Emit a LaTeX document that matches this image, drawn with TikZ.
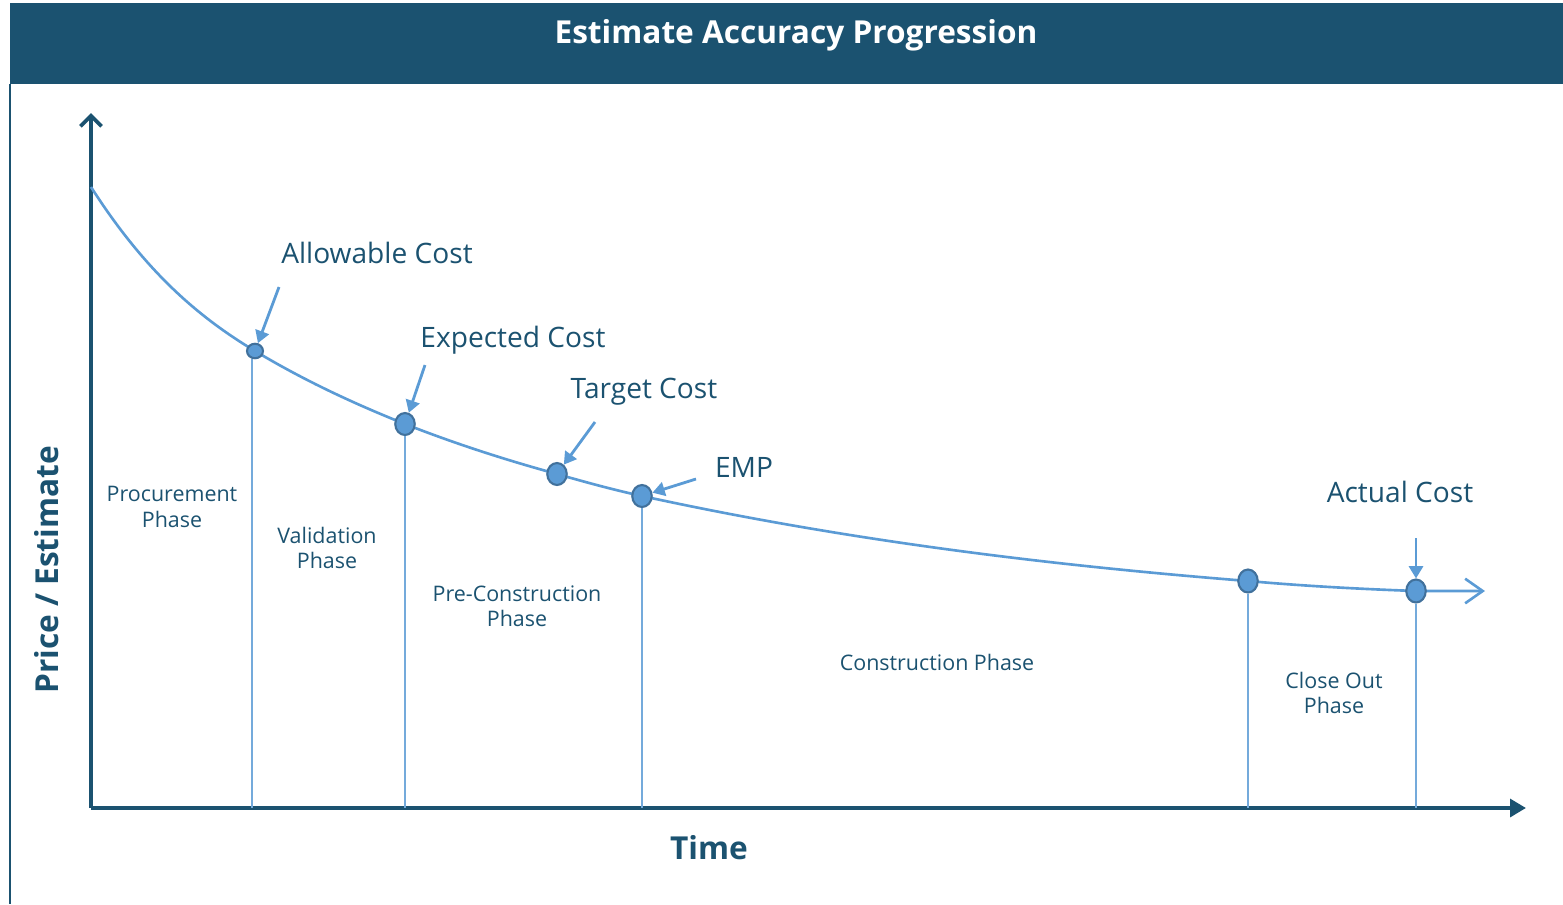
\documentclass[tikz,border=0pt]{standalone}
\usepackage{fontspec}
\setmainfont{Open Sans}
\usetikzlibrary{arrows.meta,shapes.geometric}

\definecolor{hdrblue}{HTML}{1B5270}
\definecolor{curveblue}{HTML}{5B9BD5}
\definecolor{rimblue}{HTML}{41719C}

\begin{document}
\begin{tikzpicture}[x=0.02cm,y=-0.02cm,
    axis/.style={draw=hdrblue, line width=2.2pt},
    curve/.style={draw=curveblue, line width=1.5pt},
    pointer/.style={draw=curveblue, line width=1.6pt, -{Triangle[length=7pt,width=8pt]}},
    drop/.style={draw=curveblue!85, line width=0.6pt},
    phase/.style={text=hdrblue, font=\fontsize{12.2}{14.5}\selectfont, align=center},
    costlabel/.style={text=hdrblue, font=\fontsize{16}{19}\selectfont}]

        \useasboundingbox (0,0) rectangle (1563,904);

        % header band
        \fill[hdrblue] (10,3) rectangle (1563,84);
        \draw[hdrblue, line width=1.2pt] (10,84) -- (10,904);
        \node[text=white, font=\fontsize{18}{21}\selectfont\bfseries] (title) at (796,35) {Estimate Accuracy Progression};

        % axes
        \coordinate (o) at (91,808);
        \coordinate (ytop) at (91,113);
        \coordinate (xend) at (1526,808);
        \draw[axis, -{Straight Barb[length=6pt,width=12pt]}] (o) -- (ytop);
        \draw[axis, -{Triangle[length=9pt,width=10pt]}] (o) -- (xend);
        \node[text=hdrblue, font=\fontsize{18}{21}\selectfont\bfseries, rotate=90] (ylab) at (47,570) {Price / Estimate};
        \node[text=hdrblue, font=\fontsize{18}{21}\selectfont\bfseries] (xlab) at (709,848) {Time};

        % the curve
        \draw[curve, -{Straight Barb[length=10pt,width=14pt]}] (91,187)
          .. controls (146,273) and (200,318) .. (255,351)
          .. controls (305,381) and (355,404) .. (405,424)
          .. controls (456,444) and (506,460) .. (557,474)
          .. controls (585,482) and (614,490) .. (642,496)
          .. controls (844,540) and (1046,565) .. (1248,581)
          .. controls (1304,586) and (1360,589) .. (1416,591)
          -- (1485,591);

        \begin{scope}[every node/.style={ellipse, draw=rimblue, line width=1.2pt, fill=curveblue, inner sep=0pt}]
          \node[minimum width=0.32cm, minimum height=0.29cm] (allow) at (255,351) {};
          \node[minimum width=0.39cm, minimum height=0.44cm] (expect) at (405,424) {};
          \node[minimum width=0.39cm, minimum height=0.44cm] (target) at (557,474) {};
          \node[minimum width=0.39cm, minimum height=0.44cm] (emp) at (642,496) {};
          \node[minimum width=0.39cm, minimum height=0.46cm] (build) at (1248,581) {};
          \node[minimum width=0.39cm, minimum height=0.46cm] (actual) at (1416,591) {};
        \end{scope}

        % drop lines to the time axis
        \path[drop] ([xshift=-0.06cm]allow.south) edge ([xshift=-0.06cm]allow |- o)
                    (expect.south) edge (expect |- o)
                    (emp.south) edge (emp |- o)
                    (build.south) edge (build |- o)
                    (actual.south) edge (actual |- o);

        % pointers
        \coordinate (pallow) at (279,287);
        \coordinate (pexpect) at (425,365);
        \coordinate (ptarget) at (595,422);
        \coordinate (pemp) at (696,479);
        \coordinate (pactual) at (1416,538);
        \draw[pointer] (pallow) -- (allow);
        \draw[pointer] (pexpect) -- (expect);
        \draw[pointer] (ptarget) -- (target);
        \draw[pointer] (pemp) -- (emp);
        \draw[pointer] (pactual) -- (actual);

        \begin{scope}[every node/.style={costlabel}]
          \node (lallow)  at (377,253) {Allowable Cost};
          \node (lexpect) at (513,340) {Expected Cost};
          \node (ltarget) at (644,392) {Target Cost};
          \node (lemp)    at (744,467) {EMP};
          \node (lactual) at (1400,492) {Actual Cost};
        \end{scope}

        \begin{scope}[every node/.style={phase}]
          \node (procure) at (172,507) {Procurement\\Phase};
          \node (valid)   at (327,548) {Validation\\Phase};
          \node (precon)  at (517,606) {Pre-Construction\\Phase};
          \node (constr)  at (937,662) {Construction Phase};
          \node (close)   at (1334,693) {Close Out\\Phase};
        \end{scope}

      \end{tikzpicture}
\end{document}
